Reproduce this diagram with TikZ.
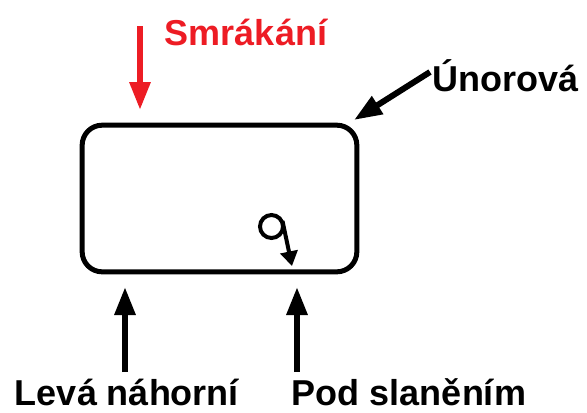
\documentclass[tikz,border=0pt]{standalone}
\usepackage{fontspec}
\setmainfont{Liberation Sans}
\usetikzlibrary{arrows.meta}

\tikzset{every picture/.style={line width=0.75pt}}
\tikzset{
  lbl/.style={font=\bfseries\fontsize{27}{30}\selectfont, inner sep=0pt},
  fatarrow/.style={line width=4.5pt, -{Triangle[length=21pt,width=15pt]}},
}

\begin{document}
\begin{tikzpicture}[x=0.75pt,y=0.75pt,yscale=-1,xscale=1]
\useasboundingbox (0,0) rectangle (587,412);

%Rounded Rect [id:box]
\node [draw, line width=3.75pt, rounded corners=15pt, minimum width=206pt, minimum height=110pt] (pool) at (219.5,198.5) {};

%Text labels
\node [lbl, text={rgb,255:red,237;green,28;blue,36}] (smrakani) at (246,32) {Smrákání};
\node [lbl] (unorova) at (506,76) {Únorová};
\node [lbl] (leva) at (127,392) {Levá náhorní};
\node [lbl] (pod) at (409,392) {Pod slaněním};

%Arrow ends
\coordinate (redtail) at (140,26);
\coordinate (redtip) at (140,110);
\coordinate (diagtail) at (430,72);
\coordinate (diagtip) at (354,120);
\coordinate (levatail) at (125,372);
\coordinate (levatip) at (125,287);
\coordinate (podtail) at (297,372);
\coordinate (podtip) at (297,287);

%Straight Lines [id:red]
\draw [fatarrow, color={rgb,255:red,237;green,28;blue,36}] (redtail) -- (redtip) ;
%Straight Lines [id:diag]
\draw [fatarrow] (diagtail) -- (diagtip) ;
%Straight Lines [id:leva]
\draw [fatarrow] (levatail) -- (levatip) ;
%Straight Lines [id:pod]
\draw [fatarrow] (podtail) -- (podtip) ;

%Loop [id:eddy]
\draw [line width=3pt] (271.5,226.5) circle (11.5) ;
\draw [line width=3pt, -{Triangle[length=11pt,width=13pt]}] (282.5,221) -- (292,266) ;

\end{tikzpicture}
\end{document}
